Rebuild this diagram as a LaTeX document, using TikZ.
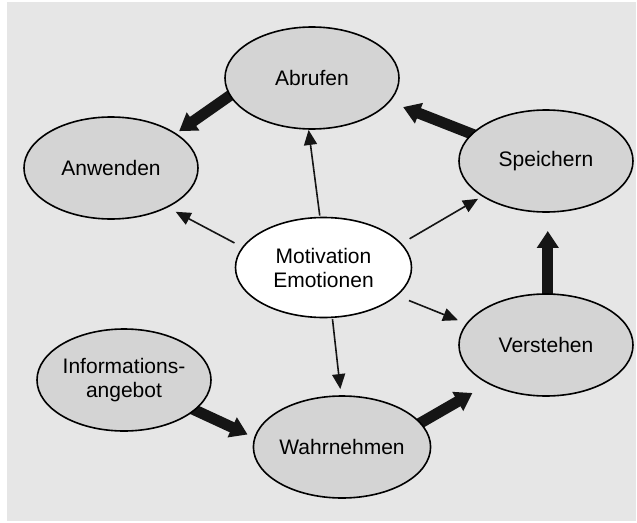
\documentclass[tikz,border=0pt]{standalone}
\usepackage{fontspec}
\setmainfont{Liberation Sans}
\usetikzlibrary{shapes.geometric,arrows.meta}
\definecolor{bggray}{HTML}{E6E6E6}
\definecolor{ellgray}{HTML}{D4D4D4}
\definecolor{arrowblack}{HTML}{151515}
\pgfdeclarelayer{bglayer}
\pgfdeclarelayer{arrowlayer}
\pgfsetlayers{bglayer,arrowlayer,main}
\begin{document}
\begin{tikzpicture}[x=1pt,y=-1pt,
  ell/.style={ellipse, draw=black, line width=1.6pt, fill=ellgray,
    minimum width=174pt, minimum height=102pt, inner sep=0pt, outer sep=0pt,
    align=center, font=\fontsize{21}{24}\selectfont},
  motell/.style={ell, fill=white, minimum width=176pt, minimum height=100pt},
  thickarrow/.style={draw=arrowblack, line width=11pt, -{Triangle[length=17pt,width=21pt]}},
  thinarrow/.style={draw=arrowblack, line width=1.6pt, -{Triangle[length=15pt,width=13pt]}},
]
\useasboundingbox (0,0) rectangle (637,522);
\begin{pgfonlayer}{bglayer}
\fill[bggray] (7,2) rectangle (636,521);
\end{pgfonlayer}

\node[ell] (abr) at (312,78) {Abrufen};
\node[ell] (anw) at (111,168) {Anwenden};
\node[ell] (spe) at (546,161) {Speichern};
\node[motell] (mot) at (323.5,267.5) {Motivation\\Emotionen};
\node[ell] (ver) at (546,345) {Verstehen};
\node[ell] (wah) at (342,447) {Wahrnehmen};
\node[ell] (inf) at (124,380) {Informations-\\angebot};

\begin{pgfonlayer}{arrowlayer}
\draw[thickarrow, shorten <=-6pt, shorten >=4.5pt] (abr.192) -- (anw.28);
\draw[thickarrow, shorten <=-6pt, shorten >=15pt] (spe.160) -- (abr.343);
\draw[thickarrow, shorten <=-6pt, shorten >=19pt] (ver.88) -- (spe.-88);
\draw[thickarrow, shorten <=-6pt, shorten >=8pt] (inf.-23) -- (wah.174);
\draw[thickarrow, shorten <=-6pt, shorten >=19pt] (wah.17) -- (ver.214);

\draw[thinarrow, shorten <=9.6pt, shorten >=10pt] (mot.166) -- (anw.-35);
\draw[thinarrow, shorten <=2pt, shorten >=1pt] (mot.94) -- (abr.-94);
\draw[thinarrow, shorten <=10pt, shorten >=5.5pt] (mot.17) -- (spe.209);
\draw[thinarrow, shorten <=13.5pt, shorten >=9.6pt] (mot.-21) -- (ver.165);
\draw[thinarrow, shorten <=2pt, shorten >=7pt] (mot.-80) -- (wah.91);
\end{pgfonlayer}
\end{tikzpicture}
\end{document}
